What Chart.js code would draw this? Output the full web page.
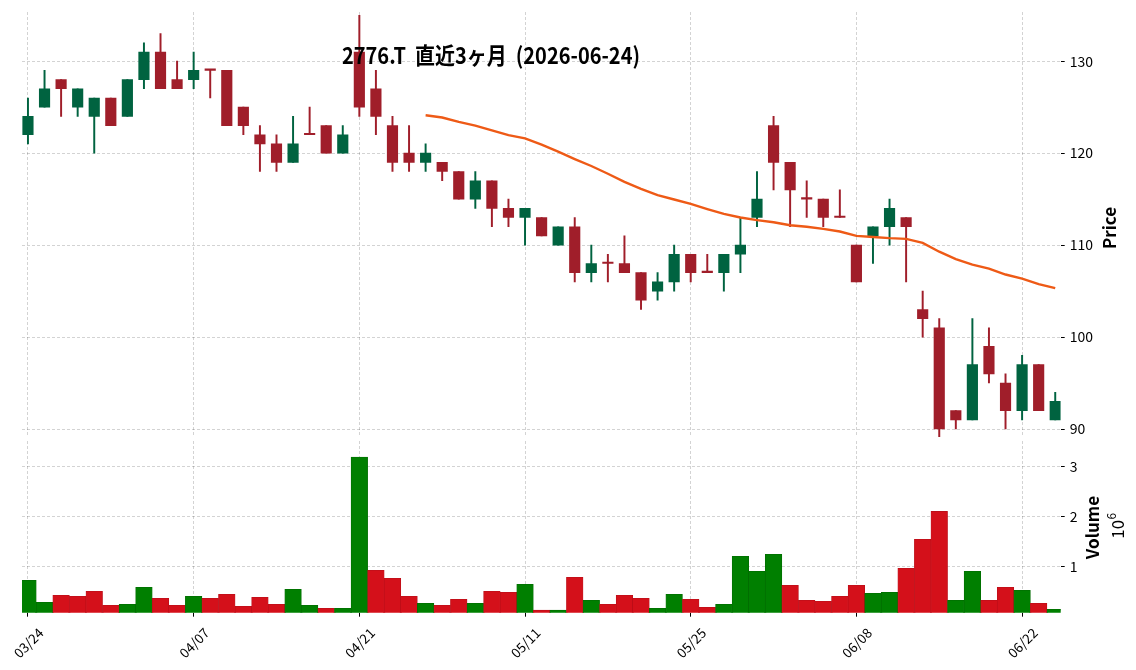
<!DOCTYPE html>
<html><head><meta charset="utf-8">
<script src="https://cdn.jsdelivr.net/npm/chart.js@4.4.1/dist/chart.umd.min.js"></script>
<style>
html,body{margin:0;padding:0;background:#fff;}
#wrap{position:relative;width:1136px;height:670px;overflow:hidden;background:#fff;}
#c1{position:absolute;left:0;top:0;}
#c2{position:absolute;left:0;top:437px;}
</style></head><body>
<div id="wrap"><canvas id="c1" width="1136" height="440"></canvas><canvas id="c2" width="1136" height="233"></canvas></div>
<script>
// ---- data ----
const dates = ["03/24","03/25","03/26","03/27","03/30","03/31","04/01","04/02","04/03","04/06",
"04/07","04/08","04/09","04/10","04/13","04/14","04/15","04/16","04/17","04/20",
"04/21","04/22","04/23","04/24","04/27","04/28","04/30","05/01","05/07","05/08",
"05/11","05/12","05/13","05/14","05/15","05/18","05/19","05/20","05/21","05/22",
"05/25","05/26","05/27","05/28","05/29","06/01","06/02","06/03","06/04","06/05",
"06/08","06/09","06/10","06/11","06/12","06/15","06/16","06/17","06/18","06/19",
"06/22","06/23","06/24"];
const opens  = [122,125,128,125,124,126,124,128,131,128,128,129,129,125,122,121,119,122,123,120,
131,127,123,120,119,119,118,115,117,114,113,113,110,112,107,108,108,107,105,106,
109,107,107,109,113,123,119,115,115,113,110,111,112,113,103,101,92,91,99,95,92,97,91];
const highs  = [126,129,128,127,126,126,128,132,133,130,131,129,129,125,123,122,124,125,123,123,
135,129,124,123,121,119,118,118,117,115,114,113,112,113,110,109,111,107,107,110,
109,109,109,113,118,124,119,117,115,116,110,112,115,113,105,102,92,102,101,96,98,97,94];
const lows   = [121,125,124,124,120,123,124,127,127,127,127,126,123,122,118,118,119,122,120,120,
124,122,118,118,118,117,115,114,112,112,110,111,110,106,106,106,107,103,104,105,
106,107,105,107,112,116,112,113,112,113,106,108,110,106,100,89,90,91,95,90,91,92,91];
const closes = [124,127,127,127,126,123,128,131,127,127,129,129,123,123,121,119,121,122,120,122,
125,124,119,119,120,118,115,117,114,113,114,111,112,107,108,108,107,104,106,109,
107,107,109,110,115,119,116,115,113,113,106,112,114,112,102,90,91,97,96,92,97,92,93];
const volumes = [720000,280000,420000,400000,500000,220000,240000,580000,360000,220000,
400000,360000,440000,200000,380000,240000,540000,220000,160000,160000,
3190000,920000,760000,400000,260000,220000,340000,260000,500000,480000,
640000,120000,120000,780000,320000,240000,420000,360000,160000,440000,
340000,180000,240000,1200000,900000,1240000,620000,320000,300000,400000,
620000,460000,480000,960000,1540000,2100000,320000,900000,320000,580000,
520000,260000,140000];
const ma25 = [null,null,null,null,null,null,null,null,null,null,null,null,null,null,null,null,null,null,null,null,null,null,null,null,
124.12,123.88,123.40,123.00,122.48,121.96,121.60,120.92,120.16,119.36,118.60,117.76,116.88,116.12,115.44,114.96,
114.48,113.92,113.40,113.00,112.72,112.48,112.16,112.00,111.76,111.48,111.00,110.88,110.76,110.68,110.24,109.28,
108.48,107.88,107.44,106.80,106.36,105.76,105.32];
const xTickIdx = [0,10,20,30,40,50,60];
const priceTicks = [90,100,110,120,130];
const volTicks = [1000000,2000000,3000000];
const titleText = "2776.T  直近3ヶ月  (2026-06-24)";

// ---- styles ----
const FONT = '"Noto Sans CJK JP","Noto Sans",sans-serif';
Chart.defaults.font.family = FONT;
Chart.defaults.color = '#000';
const UP = '#006340', DOWN = '#a01e2a';
const VUP = '#007f00', VDOWN = '#d4101a';
const XMIN = -0.36, XMAX = 62.33;
const AXW = 1136 - 1060.7;
const GRID = {color:'rgba(0,0,0,0.22)', lineWidth:0.8, tickColor:'#000', tickLength:4, tickWidth:1, offset:false};

const candleCol = closes.map((c,i)=> c>opens[i] ? UP : DOWN);
const volCol = closes.map((c,i)=> (i===0 ? c>opens[0] : c>closes[i-1]) ? VUP : VDOWN);
const volBorder = volCol.map(c=> c===VUP ? '#006800' : '#b40e18');

const bodies = closes.map((c,i)=>({x:i, y:[opens[i], c]}));
const wicks = closes.map((c,i)=>({x:i, y:[lows[i], highs[i]]}));
const maPts = [];
ma25.forEach((v,i)=>{ if(v!==null) maPts.push({x:i,y:v}); });
const volPts = volumes.map((v,i)=>({x:i,y:v}));

const setXTicks = s => { s.ticks = xTickIdx.map(v=>({value:v})); };
const noPad = s => { s.paddingTop = 0; s.paddingBottom = 0; s.paddingLeft = 0; s.paddingRight = 0; };

const textPlugin1 = {
  id:'t1',
  afterDraw(chart){
    const ctx = chart.ctx;
    ctx.save();
    ctx.fillStyle = '#000';
    ctx.font = 'bold 23px ' + FONT;
    const w = ctx.measureText(titleText).width;
    ctx.translate(491, 55);
    ctx.scale(298 / w, 1);
    ctx.textAlign = 'center';
    ctx.textBaseline = 'middle';
    ctx.fillText(titleText, 0, 0);
    ctx.restore();
    ctx.save();
    ctx.fillStyle = '#000';
    ctx.font = 'bold 17px ' + FONT;
    ctx.translate(1110, 228);
    ctx.rotate(-Math.PI/2);
    ctx.textAlign = 'center';
    ctx.textBaseline = 'middle';
    ctx.fillText('Price', 0, 0);
    ctx.restore();
  }
};
const textPlugin2 = {
  id:'t2',
  afterDraw(chart){
    const ctx = chart.ctx;
    ctx.save();
    ctx.fillStyle = '#000';
    ctx.font = 'bold 17px ' + FONT;
    ctx.translate(1093, 527.5 - 437);
    ctx.rotate(-Math.PI/2);
    ctx.textAlign = 'center';
    ctx.textBaseline = 'middle';
    ctx.fillText('Volume', 0, 0);
    ctx.restore();
    ctx.save();
    ctx.fillStyle = '#000';
    ctx.translate(1117, 526 - 437);
    ctx.rotate(-Math.PI/2);
    ctx.textBaseline = 'middle';
    ctx.font = '17px ' + FONT;
    const w10 = ctx.measureText('10').width;
    ctx.font = '12px ' + FONT;
    const w6 = ctx.measureText('6').width;
    const tot = w10 + w6;
    ctx.font = '17px ' + FONT;
    ctx.textAlign = 'left';
    ctx.fillText('10', -tot/2, 1);
    ctx.font = '12px ' + FONT;
    ctx.fillText('6', -tot/2 + w10 + 0.5, -6);
    ctx.restore();
  }
};

new Chart(document.getElementById('c1'), {
  data: {
    datasets: [
      {type:'bar', data:wicks, backgroundColor:candleCol, barThickness:1.3, grouped:false, order:3, borderWidth:0},
      {type:'bar', data:bodies, backgroundColor:candleCol, barThickness:10.5, grouped:false, order:2, borderWidth:0, minBarLength:1.5},
      {type:'line', data:maPts, borderColor:'#ee5a16', borderWidth:2.4, pointRadius:0, tension:0, order:1, fill:false}
    ]
  },
  options: {
    responsive:false, animation:false, events:[],
    layout:{padding:{left:22, top:12, right:0, bottom:3}},
    plugins:{legend:{display:false}, tooltip:{enabled:false}},
    scales:{
      x:{type:'linear', min:XMIN, max:XMAX, offset:false,
         afterBuildTicks:setXTicks, afterFit:s=>{ s.height=0; noPad(s); },
         ticks:{display:false}, grid:Object.assign({}, GRID, {drawTicks:false}),
         border:{display:false, dash:[3,2]}},
      y:{position:'right', min:89.13, max:135.35,
         afterBuildTicks:s=>{ s.ticks = priceTicks.map(v=>({value:v})); },
         afterFit:s=>{ s.width = AXW; noPad(s); },
         ticks:{padding:5, font:{size:14}, color:'#000'},
         grid:GRID, border:{display:false, dash:[3,2]}}
    }
  },
  plugins:[textPlugin1]
});

new Chart(document.getElementById('c2'), {
  data: {
    datasets: [
      {type:'bar', data:volPts, backgroundColor:volCol, borderColor:volBorder, borderWidth:0.6, barThickness:16.57, grouped:false}
    ]
  },
  options: {
    responsive:false, animation:false, events:[],
    layout:{padding:{left:22, top:4, right:0, bottom:0}},
    plugins:{legend:{display:false}, tooltip:{enabled:false}},
    scales:{
      x:{type:'linear', min:XMIN, max:XMAX, offset:false,
         afterBuildTicks:setXTicks, afterFit:s=>{ s.height=57.3; noPad(s); },
         ticks:{minRotation:45, maxRotation:45, labelOffset:13, padding:8, font:{size:13.5}, color:'#000',
                callback:v=>dates[v]},
         grid:GRID, border:{display:false, dash:[3,2]}},
      y:{position:'right', min:70000, max:3510000,
         afterBuildTicks:s=>{ s.ticks = volTicks.map(v=>({value:v})); },
         afterFit:s=>{ s.width = AXW; noPad(s); },
         ticks:{padding:5, font:{size:14}, color:'#000', callback:v=>String(v/1000000)},
         grid:GRID, border:{display:false, dash:[3,2]}}
    }
  },
  plugins:[textPlugin2]
});
</script>
</body></html>
